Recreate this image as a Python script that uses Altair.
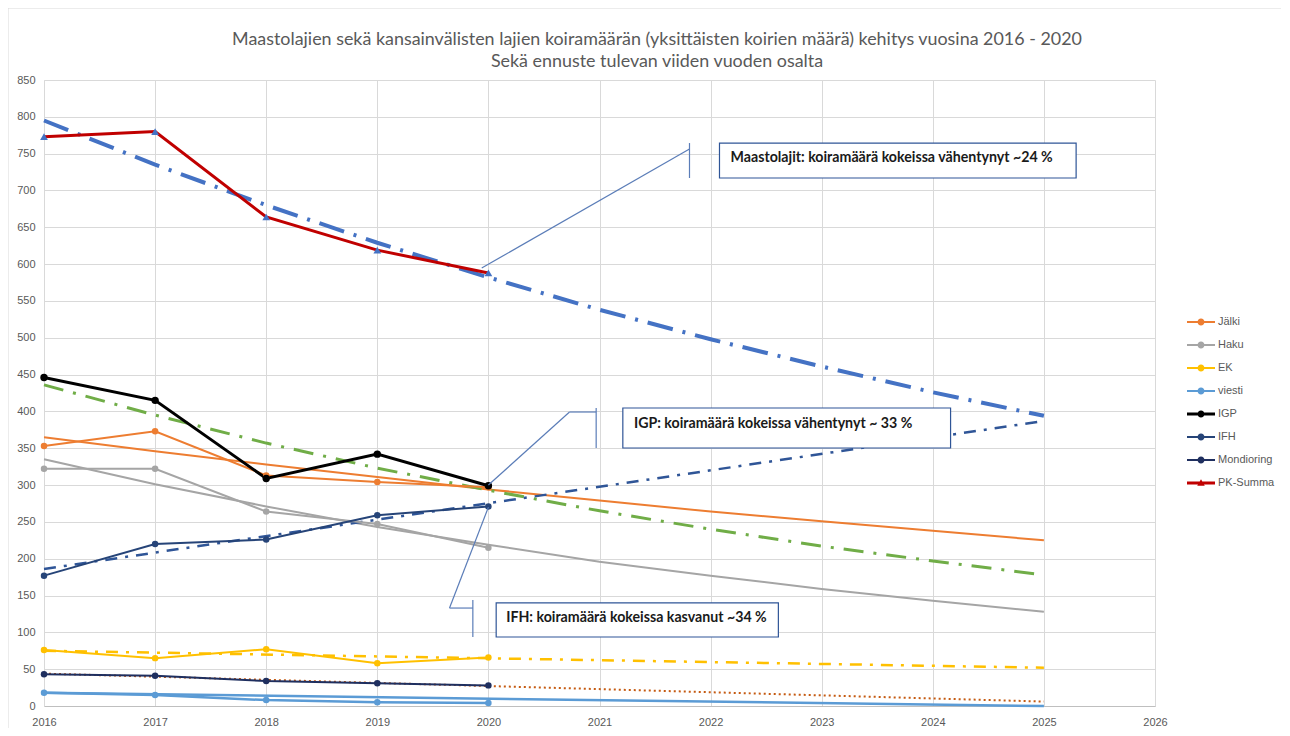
import altair as alt
import pandas as pd

# ---------------- data ----------------
years = [2016, 2017, 2018, 2019, 2020]
series_names = ["Jälki", "Haku", "EK", "viesti", "IGP", "IFH", "Mondioring", "PK-Summa"]

jalki = [353, 373, 313, 304, 297]
haku = [322, 322, 264, 247, 215]
ek = [76, 65, 77, 58, 66]
viesti = [18, 15, 8, 5, 4]
igp = [446, 415, 309, 342, 299]
ifh = [177, 220, 226, 259, 271]
mondioring = [43, 41, 34, 31, 28]
pk_summa = [773, 780, 664, 619, 588]

# trend / forecast lines
trend_years = [2016, 2017, 2018, 2019, 2020, 2021, 2022, 2023, 2024, 2025]
trend_ends = [2016, 2025]
trend_jalki = [365, 346, 328, 311, 294, 279, 264, 251, 238, 225]
trend_haku = [335, 301, 271, 243, 219, 196, 177, 159, 143, 128]
trend_igp = [436, 395, 357, 323, 293, 265, 240, 217, 197, 178]
trend_pk = [795, 735, 680, 629, 582, 538, 498, 461, 426, 394]
trend_ek = [75, 52]
trend_viesti = [18, 0]
trend_ifh = [186, 387]
trend_mondioring = [44, 6]

title_lines = [
    "Maastolajien sekä kansainvälisten lajien koiramäärän (yksittäisten koirien määrä) kehitys vuosina 2016 - 2020",
    "Sekä ennuste tulevan viiden vuoden osalta",
]

ann_texts = [
    "Maastolajit: koiramäärä kokeissa vähentynyt ~24 %",
    "IGP: koiramäärä  kokeissa vähentynyt ~ 33 %",
    "IFH: koiramäärä kokeissa kasvanut ~34 %",
]
ann_text_x = [2022.18, 2021.31, 2020.16]
ann_text_y = [744, 383, 119.5]
box_x1 = [2022.08, 2021.21, 2020.07]
box_x2 = [2025.29, 2024.16, 2022.61]
box_y1 = [764.4, 404.6, 139.9]
box_y2 = [716.9, 350.3, 93.7]
callout_x1 = [2019.94, 2021.81, 2020.0, 2020.73, 2020.97, 2020.0, 2019.65, 2019.86]
callout_y1 = [594.7, 764.4, 300.0, 399.2, 404.6, 270.0, 133.0, 144.0]
callout_x2 = [2021.81, 2021.81, 2020.73, 2020.97, 2020.97, 2019.65, 2019.86, 2019.86]
callout_y2 = [756.3, 716.9, 399.2, 399.2, 350.3, 133.0, 133.0, 93.7]

# ---------------- styles ----------------
FONT = "Lato, Liberation Sans, sans-serif"
AXFONT = "Liberation Sans, sans-serif"
TXT = "#595959"

series_values = {
    "Jälki": jalki, "Haku": haku, "EK": ek, "viesti": viesti, "IGP": igp,
    "IFH": ifh, "Mondioring": mondioring, "PK-Summa": pk_summa,
}
trend_values = {
    "Jälki": (trend_years, trend_jalki), "Haku": (trend_years, trend_haku),
    "EK": (trend_ends, trend_ek), "viesti": (trend_ends, trend_viesti),
    "IGP": (trend_years, trend_igp), "IFH": (trend_ends, trend_ifh),
    "Mondioring": (trend_ends, trend_mondioring), "PK-Summa": (trend_years, trend_pk),
}
line_color = {
    "Jälki": "#ED7D31", "Haku": "#A5A5A5", "EK": "#FFC000", "viesti": "#5B9BD5",
    "IGP": "#000000", "IFH": "#264478", "Mondioring": "#1F2F5F", "PK-Summa": "#C00000",
}
line_width = {
    "Jälki": 2, "Haku": 2, "EK": 2, "viesti": 2.5, "IGP": 3, "IFH": 2,
    "Mondioring": 2, "PK-Summa": 3,
}
trend_style = {
    "Jälki": ("#ED7D31", 2, None),
    "Haku": ("#A5A5A5", 2, None),
    "EK": ("#FFC000", 2.5, [12, 8, 3, 8]),
    "viesti": ("#5B9BD5", 2.5, None),
    "IGP": ("#70AD47", 3, [20, 10, 3, 10]),
    "IFH": ("#2F5597", 2.5, [12, 8, 3, 8]),
    "Mondioring": ("#C55A11", 2, [2, 3]),
    "PK-Summa": ("#4472C4", 4, [26, 10, 3, 10]),
}

x_scale = alt.Scale(domain=[2016, 2026], nice=False, zero=False)
y_scale = alt.Scale(domain=[0, 850], nice=False)
x_axis = alt.Axis(values=list(range(2016, 2027)), format="d", title=None, labelFlush=False)
y_axis = alt.Axis(values=list(range(0, 851, 50)), title=None)


def X(f):
    return alt.X(f, scale=x_scale, axis=x_axis)


def Y(f):
    return alt.Y(f, scale=y_scale, axis=y_axis)


layers = []

# outer chart frame
frame = alt.Chart(pd.DataFrame({"f": [0]})).mark_rect(
    fillOpacity=0, stroke="#D9D9D9", strokeWidth=1
).encode(x=alt.value(-36), x2=alt.value(1245), y=alt.value(-72), y2=alt.value(660))
layers.append(frame)

# title as text
title_df = pd.DataFrame({"t": title_lines, "line": [0, 1]})
layers.append(
    alt.Chart(title_df).transform_filter("datum.line == 0").mark_text(
        font=FONT, fontSize=17.9, color=TXT, align="center", baseline="middle"
    ).encode(text="t:N", x=alt.value(613), y=alt.value(-40))
)
layers.append(
    alt.Chart(title_df).transform_filter("datum.line == 1").mark_text(
        font=FONT, fontSize=17.9, color=TXT, align="center", baseline="middle"
    ).encode(text="t:N", x=alt.value(613), y=alt.value(-18))
)

# trend lines
for name in series_names:
    ty, tv = trend_values[name]
    df = pd.DataFrame({"year": ty, "value": tv})
    c, w, d = trend_style[name]
    kw = dict(color=c, strokeWidth=w)
    if d:
        kw["strokeDash"] = d
    layers.append(alt.Chart(df).mark_line(**kw).encode(x=X("year:Q"), y=Y("value:Q")))

# data lines
for name in series_names:
    df = pd.DataFrame({"year": years, "value": series_values[name]})
    layers.append(
        alt.Chart(df).mark_line(color=line_color[name], strokeWidth=line_width[name]).encode(
            x=X("year:Q"), y=Y("value:Q"))
    )
# markers
for name in series_names:
    df = pd.DataFrame({"year": years, "value": series_values[name]})
    if name == "PK-Summa":
        mk = alt.Chart(df).mark_point(shape="triangle-up", filled=True, color="#4472C4",
                                      size=60, opacity=1)
    else:
        mk = alt.Chart(df).mark_point(shape="circle", filled=True, color=line_color[name],
                                      size=55 if name == "IGP" else 42, opacity=1)
    layers.append(mk.encode(x=X("year:Q"), y=Y("value:Q")))

# legend-only layer
circ = "M0.25,0A0.25,0.25 0 1,1 -0.25,0A0.25,0.25 0 1,1 0.25,0Z"


def sym(h, marker=circ):
    return f"M-1,-{h}L1,-{h}L1,{h}L-1,{h}Z" + marker


tri = "M0,-0.27L0.27,0.2L-0.27,0.2Z"
legend_shapes = [sym(0.07), sym(0.07), sym(0.07), sym(0.08), sym(0.11), sym(0.07), sym(0.07),
                 sym(0.1, tri)]
legend_colors = [line_color[n] for n in series_names]
leg_df = pd.DataFrame({"series": pd.Series([], dtype="object")})
legend_layer = alt.Chart(leg_df).mark_point(filled=True, opacity=1).encode(
    color=alt.Color("series:N", scale=alt.Scale(domain=series_names, range=legend_colors),
                    legend=alt.Legend(title=None, orient="none", legendX=1143, legendY=228,
                                      symbolSize=784, symbolStrokeWidth=0,
                                      labelFont=AXFONT, labelFontSize=11, labelColor=TXT,
                                      rowPadding=4, labelOffset=3)),
    shape=alt.Shape("series:N", scale=alt.Scale(domain=series_names, range=legend_shapes)),
)
layers.append(legend_layer)

# annotations: callout lines
cdf = pd.DataFrame({"x1": callout_x1, "y1": callout_y1, "x2": callout_x2, "y2": callout_y2})
layers.append(
    alt.Chart(cdf).mark_rule(color="#5B7DB8", strokeWidth=1.2).encode(
        x=X("x1:Q"), y=Y("y1:Q"), x2="x2:Q", y2="y2:Q")
)
bdf = pd.DataFrame({"x1": box_x1, "x2": box_x2, "y1": box_y1, "y2": box_y2})
layers.append(
    alt.Chart(bdf).mark_rect(fill="white", stroke="#2F5597", strokeWidth=1.2).encode(
        x=X("x1:Q"), y=Y("y1:Q"), x2="x2:Q", y2="y2:Q")
)
tdf = pd.DataFrame({"t": ann_texts, "x": ann_text_x, "y": ann_text_y})
layers.append(
    alt.Chart(tdf).mark_text(align="left", baseline="middle", font=FONT, fontSize=14.2,
                             fontWeight="bold", color="#1a1a1a").encode(
        x=X("x:Q"), y=Y("y:Q"), text="t:N")
)

chart = alt.layer(*layers).properties(
    width=1111,
    height=626,
    padding={"left": 36, "top": 72, "right": 126, "bottom": 22},
    autosize=alt.AutoSizeParams(type="none"),
).configure_view(stroke=None).configure_axis(
    gridColor="#D9D9D9", gridWidth=1, domainColor="#D9D9D9", ticks=False,
    labelFont=AXFONT, labelFontSize=11, labelColor=TXT,
).configure_axisX(labelPadding=10, domainColor="#BFBFBF").configure_axisY(labelPadding=9)

chart.save("out.html", embed_options={"renderer": "svg", "actions": False})
